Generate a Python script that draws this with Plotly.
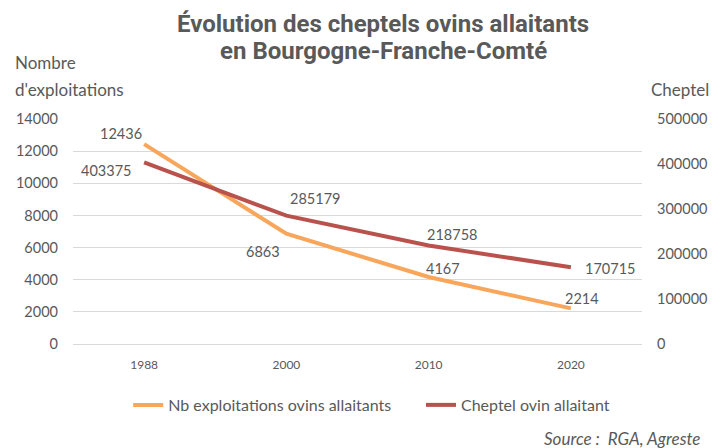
import plotly.graph_objects as go

years = ["1988", "2000", "2010", "2020"]
nb_exploitations = [12436, 6863, 4167, 2214]
cheptel = [403375, 285179, 218758, 170715]

name_expl = "Nb exploitations ovins allaitants"
name_chep = "Cheptel ovin allaitant"
title_lines = ["Évolution des cheptels ovins allaitants", "en Bourgogne-Franche-Comté"]
source_text = "Source :&nbsp; RGA, Agreste"

ORANGE = "#F8A65B"
RED = "#B9524C"
GRAY = "#595959"
GRID = "#D9D9D9"
FONT = "Lato, Open Sans, sans-serif"
TITLE_FONT = "Liberation Sans Narrow, Roboto, sans-serif"

# label offsets in pixels (style only)
off_expl = [(-23, 11), (-23, -18), (14, 9), (11, 10)]
off_chep = [(-38, -8), (29, 17), (23, 11), (39, -1)]

fig = go.Figure()
fig.add_trace(go.Scatter(x=years, y=nb_exploitations, name=name_expl, mode="lines",
                         line=dict(color=ORANGE, width=4), yaxis="y", legend="legend"))
fig.add_trace(go.Scatter(x=years, y=cheptel, name=name_chep, mode="lines",
                         line=dict(color=RED, width=4), yaxis="y2", legend="legend2"))

lbl_font = dict(family=FONT, size=14.5, color=GRAY)
anns = []
for i, (v, (dx, dy)) in enumerate(zip(nb_exploitations, off_expl)):
    anns.append(dict(x=i, y=v, xref="x", yref="y", text=str(v), showarrow=False,
                     xshift=dx, yshift=dy, font=lbl_font))
for i, (v, (dx, dy)) in enumerate(zip(cheptel, off_chep)):
    anns.append(dict(x=i, y=v, xref="x", yref="y2", text=str(v), showarrow=False,
                     xshift=dx, yshift=dy, font=lbl_font))

title_font = dict(family=TITLE_FONT, size=24, color=GRAY)
axt_font = dict(family=FONT, size=17, color=GRAY)
anns += [
    dict(xref="paper", yref="paper", x=0.545, y=1.423, xanchor="center", yanchor="middle",
         text="<b>" + title_lines[0] + "</b>", showarrow=False, font=title_font),
    dict(xref="paper", yref="paper", x=0.545, y=1.30, xanchor="center", yanchor="middle",
         text="<b>" + title_lines[1] + "</b>", showarrow=False, font=title_font),
    dict(xref="paper", yref="paper", x=-0.1054, y=1.249, xanchor="left", yanchor="middle",
         text="Nombre", showarrow=False, font=axt_font),
    dict(xref="paper", yref="paper", x=-0.1054, y=1.129, xanchor="left", yanchor="middle",
         text="d'exploitations", showarrow=False, font=axt_font),
    dict(xref="paper", yref="paper", x=1.121, y=1.133, xanchor="right", yanchor="middle",
         text="Cheptel", showarrow=False, font=axt_font),
    dict(xref="paper", yref="paper", x=1.1054, y=-0.418, xanchor="right", yanchor="middle",
         text="<i>" + source_text + "</i>", showarrow=False,
         font=dict(family=FONT, size=17, color=GRAY)),
]

leg_font = dict(family=FONT, size=16, color=GRAY)
fig.update_layout(
    width=718, height=440,
    margin=dict(l=65, r=84, t=111, b=104, autoexpand=False),
    paper_bgcolor="white", plot_bgcolor="white",
    xaxis=dict(type="category", range=[-0.5, 3.5], showgrid=False, showline=False,
               ticks="", tickfont=dict(family=FONT, size=12, color=GRAY), ticklabelstandoff=12),
    yaxis=dict(range=[0, 14000], dtick=2000, showgrid=True, gridcolor=GRID, gridwidth=1,
               zeroline=True, zerolinecolor=GRID, zerolinewidth=1, showline=False, ticks="",
               tickformat="d",
               tickfont=dict(family=FONT, size=14.5, color=GRAY), ticklabelstandoff=14),
    yaxis2=dict(range=[0, 500000], dtick=100000, overlaying="y", side="right", showgrid=False,
                zeroline=False, showline=False, ticks="", tickformat="d",
                tickfont=dict(family=FONT, size=14.5, color=GRAY), ticklabelstandoff=14),
    legend=dict(orientation="h", x=0.097, xanchor="left", y=-0.271, yanchor="middle",
                font=leg_font, itemwidth=30),
    legend2=dict(orientation="h", x=0.6116, xanchor="left", y=-0.271, yanchor="middle",
                 font=leg_font, itemwidth=30),
    annotations=anns,
    showlegend=True,
)

fig.write_html("out.html")
